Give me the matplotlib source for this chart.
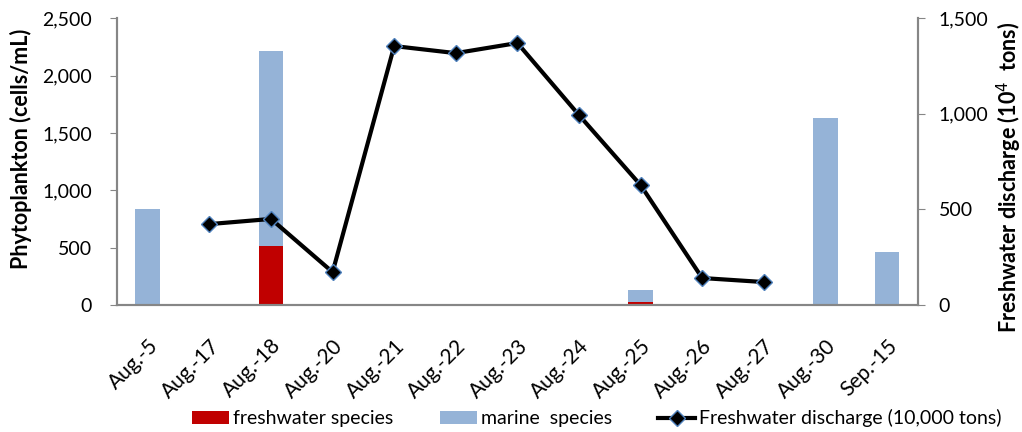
import numpy as np
import matplotlib.pyplot as plt
from matplotlib.ticker import FuncFormatter

plt.rcParams['font.family'] = ['Lato', 'DejaVu Sans']

# datos de muestreo
fechas = ["Aug.-5", "Aug.-17", "Aug.-18", "Aug.-20", "Aug.-21", "Aug.-22", "Aug.-23",
          "Aug.-24", "Aug.-25", "Aug.-26", "Aug.-27", "Aug.-30", "Sep.-15"]
dulce = [0, 0, 515, 0, 0, 0, 0, 0, 25, 0, 0, 0, 0]
marina = [838, 0, 1697, 0, 0, 0, 0, 0, 105, 0, 0, 1630, 462]
descarga = [np.nan, 423, 450, 172, 1354, 1317, 1370, 993, 627, 141, 120, np.nan, np.nan]

gris = "#868686"
x = np.arange(len(fechas))

fig = plt.figure(figsize=(10.22, 4.32), dpi=100)
ax = fig.add_axes([0.1145, 0.294, 0.7835, 0.664])
ax2 = ax.twinx()

b1 = ax.bar(x, dulce, width=0.4, color="#c00000", label="freshwater species")
b2 = ax.bar(x, marina, width=0.4, bottom=dulce, color="#95b3d7", label="marine  species")
l1, = ax2.plot(x, descarga, color="black", lw=3, marker="D", ms=8,
               mfc="black", mec="#4f81bd", mew=1,
               label="Freshwater discharge (10,000 tons)")

miles = FuncFormatter(lambda v, p: f"{v:,.0f}")
ax.set_xlim(-0.5, len(fechas) - 0.5)
ax.set_ylim(0, 2500)
ax.set_yticks(np.arange(0, 2501, 500))
ax.yaxis.set_major_formatter(miles)
ax2.set_ylim(0, 1500)
ax2.set_yticks(np.arange(0, 1501, 500))
ax2.yaxis.set_major_formatter(miles)

for a in (ax, ax2):
    a.spines["top"].set_visible(False)
    for s in ("left", "right", "bottom"):
        a.spines[s].set_color(gris)
        a.spines[s].set_linewidth(1.5)
    a.tick_params(axis="y", colors=gris, labelcolor="black", labelsize=14, length=5)
ax.tick_params(axis="y", pad=13)
ax2.tick_params(axis="y", pad=10)

ax.tick_params(axis="x", length=0, labelsize=15, pad=22)
ax.set_xticks(x)
ax.set_xticklabels(fechas, rotation=45, ha="right", rotation_mode="anchor")

ax.set_ylabel("Phytoplankton (cells/mL)", fontsize=15.5, fontweight="bold")
ax.yaxis.set_label_coords(-0.106, 0.544)
ax2.set_ylabel("Freshwater discharge (10$^{4}$  tons)", fontsize=15.5, fontweight="bold",
               rotation=90)
ax2.yaxis.set_label_coords(1.096, 0.446)

fig.legend(handles=[b1, b2, l1], loc="lower center", bbox_to_anchor=(0.584, -0.03),
           ncol=3, frameon=False, fontsize=14, handlelength=1.9, columnspacing=2.4,
           handletextpad=0.2)

fig.savefig("out.png", dpi=100)
